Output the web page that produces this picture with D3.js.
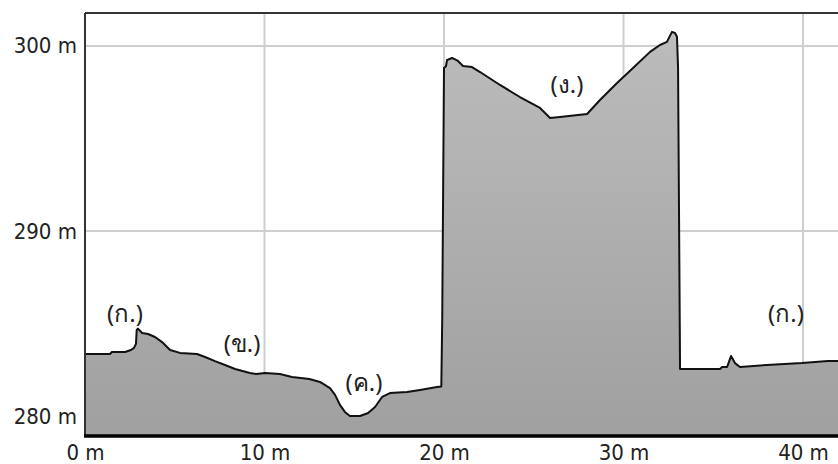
<!DOCTYPE html>
<html><head><meta charset="utf-8">
<script src="https://cdn.jsdelivr.net/npm/d3@7"></script>
<style>
html,body{margin:0;padding:0;background:#fff;overflow:hidden}
svg{display:block}
.tick text{font-family:"DejaVu Sans Condensed","DejaVu Sans",sans-serif;font-stretch:condensed;font-size:22px;fill:#222}
</style></head>
<body>
<svg id="chart" width="838" height="464"></svg>
<script>
// distance along profile (m)
const distances = [0,1.39,1.50,2.23,2.56,2.73,2.84,2.88,2.95,3.18,3.51,3.90,4.35,4.74,5.29,6.24,6.69,7.24,7.80,8.36,9.19,9.55,10.03,10.86,11.53,12.5,13.09,13.65,13.93,14.21,14.48,14.76,15.32,15.77,16.16,16.55,16.99,17.94,18.66,19.61,19.85,19.90,20.0,20.11,20.17,20.45,20.78,21.06,21.56,22.01,23.12,24.23,25.35,25.91,26.46,27.97,28.69,29.64,30.53,31.48,32.03,32.42,32.70,32.87,32.98,33.04,33.15,35.38,35.49,35.77,35.99,36.21,36.49,37.99,39.94,41.39,42.7];
// elevation (m)
const elevations = [283.35,283.35,283.46,283.46,283.57,283.68,283.9,284.65,284.72,284.49,284.43,284.27,283.95,283.57,283.41,283.35,283.19,282.97,282.76,282.54,282.32,282.27,282.32,282.27,282.11,282.0,281.84,281.51,281.14,280.59,280.22,280.0,280.0,280.16,280.49,281.03,281.24,281.30,281.41,281.57,281.6,285.19,298.81,298.9,299.24,299.35,299.19,298.92,298.86,298.59,297.89,297.24,296.65,296.11,296.16,296.32,297.08,298.0,298.81,299.68,300.05,300.22,300.76,300.70,300.5,298.8,282.54,282.54,282.65,282.65,283.24,282.86,282.65,282.76,282.86,282.97,282.97];
const xTicks = [0,10,20,30,40];
const yTicks = [280,290,300];
const labelTexts = ["(ก.)","(ข.)","(ค.)","(ง.)","(ก.)"];
const labelDist = [2.23,8.75,15.54,26.85,39.05];
const labelElev = [285.57,283.95,281.89,297.95,285.57];

const data = distances.map((d,i)=>({d, e:elevations[i]}));
const svg = d3.select("#chart");
const pLeft=85, pTop=13, pBottom=436;
const x = d3.scaleLinear().domain([0,42.7]).range([pLeft, pLeft+42.7*17.95]);
const y = d3.scaleLinear().domain([278.92,301.78]).range([pBottom, pTop]);

// gradient
const defs = svg.append("defs");
const g = defs.append("linearGradient").attr("id","fillg").attr("gradientUnits","userSpaceOnUse")
  .attr("x1",0).attr("y1",pTop).attr("x2",0).attr("y2",pBottom);
g.append("stop").attr("offset","0%").attr("stop-color","#bdbdbd");
g.append("stop").attr("offset","100%").attr("stop-color","#a0a0a0");

// grid
const grid = svg.append("g");
grid.selectAll("line.v").data(xTicks.filter(t=>t>0)).join("line")
  .attr("x1",d=>x(d)).attr("x2",d=>x(d)).attr("y1",pTop).attr("y2",pBottom)
  .attr("stroke","#cfcfcf").attr("stroke-width",2);
grid.selectAll("line.h").data(yTicks).join("line")
  .attr("x1",pLeft).attr("x2",838).attr("y1",d=>y(d)).attr("y2",d=>y(d))
  .attr("stroke","#cfcfcf").attr("stroke-width",2);

// area
const area = d3.area().x(d=>x(d.d)).y0(pBottom).y1(d=>y(d.e));
svg.append("path").datum(data).attr("d",area).attr("fill","url(#fillg)");
const line = d3.line().x(d=>x(d.d)).y(d=>y(d.e));
svg.append("path").datum(data).attr("d",line).attr("fill","none")
  .attr("stroke","#111").attr("stroke-width",2).attr("stroke-linejoin","round");

// frame
svg.append("line").attr("x1",pLeft).attr("x2",838).attr("y1",pTop).attr("y2",pTop)
  .attr("stroke","#333").attr("stroke-width",2);
svg.append("line").attr("x1",pLeft).attr("x2",pLeft).attr("y1",pTop).attr("y2",pBottom)
  .attr("stroke","#333").attr("stroke-width",2);

// axes
const xAxis = d3.axisBottom(x).tickValues(xTicks).tickFormat(d=>d+" m").tickSize(0).tickPadding(8);
const xa = svg.append("g").attr("transform",`translate(0,${pBottom})`).call(xAxis);
xa.select(".domain").remove();
svg.append("line").attr("x1",pLeft-1).attr("x2",838).attr("y1",pBottom).attr("y2",pBottom)
  .attr("stroke","#000").attr("stroke-width",3.5);
const yAxis = d3.axisLeft(y).tickValues(yTicks).tickFormat(d=>d+" m").tickSize(0).tickPadding(8);
const ya = svg.append("g").attr("transform",`translate(${pLeft},0)`).call(yAxis);
ya.select(".domain").remove();

// annotations
svg.selectAll("text.lab").data(labelTexts).join("text").attr("class","lab")
  .attr("x",(d,i)=>x(labelDist[i])).attr("y",(d,i)=>y(labelElev[i]))
  .attr("text-anchor","middle").attr("dominant-baseline","central")
  .attr("font-family","'Noto Sans','DejaVu Sans',sans-serif").attr("font-size",24).attr("fill","#222")
  .text(d=>d);
</script>
</body></html>
